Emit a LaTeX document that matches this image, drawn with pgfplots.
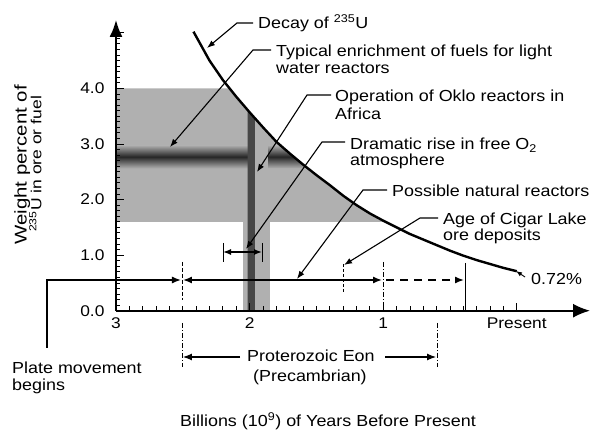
\documentclass[border=0pt]{standalone}
\usepackage{pgfplots}
\pgfplotsset{compat=1.18}
\usetikzlibrary{arrows.meta}
\usepackage{fontspec}
\setmainfont{Liberation Sans}[FakeStretch=1.12]
\newfontfamily\ylabfont{Liberation Sans}[FakeStretch=1.2]

\begin{document}
\begin{tikzpicture}
\path[use as bounding box] (-116pt,-120.3pt) rectangle (474pt,310.7pt);
\begin{axis}[
  at={(0,0)}, anchor=south west, scale only axis,
  width=474pt, height=290.7pt,
  xmin=-3, xmax=0.548, ymin=0, ymax=5.23,
  axis lines=left, axis on top, clip=false,
  x axis line style={line width=1.8pt, -{Latex[length=17pt,width=14pt]}},
  y axis line style={line width=1.8pt, -{Latex[length=17pt,width=13pt]}},
  xtick={-3,-2,-1,0}, xticklabels={3,2,1,Present},
  ytick={0,1,2,3,4,5}, yticklabels={0.0,1.0,2.0,3.0,4.0,{}},
  minor x tick num=9, minor y tick num=9,
  tick align=inside,
  major tick length=8pt, minor tick length=4.5pt,
  every tick/.style={black, line width=0.8pt},
  tick label style={font=\fontsize{15.5}{18}\selectfont},
  yticklabel style={xshift=-8pt},
  xticklabel style={yshift=-3.5pt},
]
% enrichment region (stippled)
\addplot[draw=none, fill=black!31] coordinates {(-3,1.6) (-3,4.0) (-2.15,4.0) (-2.1,3.85) (-2.0,3.57) (-1.9,3.30) (-1.8,3.04) (-1.7,2.83) (-1.6,2.63) (-1.5,2.44) (-1.4,2.26) (-1.3,2.07) (-1.2,1.90) (-1.1,1.75) (-1.0,1.62) (-0.983,1.6)};
% dark band of typical enrichment
\addplot[draw=none, top color=black!31, bottom color=black!31, middle color=black!85] coordinates {(-3,2.56) (-3,2.98) (-1.96,2.98) (-1.96,2.56)};
\addplot[draw=none, top color=black!31, bottom color=black!31, middle color=black!85] coordinates {(-1.86,2.56) (-1.86,2.98) (-1.77,2.98) (-1.7,2.83) (-1.6,2.63) (-1.565,2.56)};
% Oklo band
\addplot[draw=none, fill=black!31] coordinates {(-2.05,0) (-2.05,1.6) (-1.85,1.6) (-1.85,0)};
\addplot[draw=none, fill=black!72] coordinates {(-2.015,0) (-2.015,3.61) (-1.96,3.46) (-1.96,0)};
% decay of U-235
\addplot[line width=2.4pt, black] coordinates {(-2.42,5.02) (-2.3,4.50) (-2.2,4.15) (-2.1,3.85) (-2.0,3.57) (-1.9,3.30) (-1.8,3.04) (-1.7,2.83) (-1.6,2.63) (-1.5,2.44) (-1.4,2.26) (-1.3,2.07) (-1.2,1.90) (-1.1,1.75) (-1.0,1.62) (-0.9,1.50) (-0.8,1.38) (-0.7,1.28) (-0.6,1.18) (-0.5,1.08) (-0.4,0.99) (-0.3,0.91) (-0.2,0.84) (-0.1,0.77) (0,0.71)};
\end{axis}

\begin{scope}[x=1pt,y=-1pt,shift={(-116pt,310.7pt)}, font=\fontsize{16}{19}\selectfont,
  every node/.style={inner sep=0pt},
  ann/.style={line width=1.1pt},
  ah/.style={{Latex[length=8pt,width=6pt]}-},
  tl/.style={line width=1.4pt},
  tip/.style={-{Latex[length=9pt,width=7pt]}},
  thinv/.style={line width=0.7pt}]
% leaders
\draw[ann,ah] (207,48) -- (237,23) -- (253,23);
\node[anchor=base west] at (258,28.5) {Decay of \textsuperscript{235}U};
\draw[ann,ah] (170,147) -- (253,50) -- (271,50);
\node[anchor=base west] at (276,57) {Typical enrichment of fuels for light};
\node[anchor=base west] at (276,73.5) {water reactors};
\draw[ann,ah] (257,172) -- (307,95) -- (331,95);
\node[anchor=base west] at (335,101.7) {Operation of Oklo reactors in};
\node[anchor=base west] at (335,119.5) {Africa};
\draw[ann,ah] (246,249) -- (322,142) -- (345,142);
\node[anchor=base west] at (350,149.5) {Dramatic rise in free O\textsubscript{2}};
\node[anchor=base west] at (350,166) {atmosphere};
\draw[ann,ah] (297,279) -- (363,190) -- (387,190);
\node[anchor=base west] at (392,197) {Possible natural reactors};
\draw[ann,ah] (344,265) -- (420,218) -- (438,218);
\node[anchor=base west] at (443,225) {Age of Cigar Lake};
\node[anchor=base west] at (443,241) {ore deposits};
\draw[line width=0.9pt, -{Latex[length=6pt,width=4.5pt]}] (525,277) -- (516,271);
\node[anchor=base west] at (531,285) {0.72\%};
% time line
\draw[tl, tip] (47,348) -- (47,280) -- (181,280);
\draw[tl, {Latex[length=9pt,width=7pt]}-{Latex[length=9pt,width=7pt]}] (183,280) -- (382,280);
\draw[tl, dash pattern=on 8pt off 6pt, tip] (386,280) -- (464,280);
\draw[thinv, dash pattern=on 4pt off 2pt] (182,262) -- (182,300);
\draw[thinv, dash pattern=on 5pt off 2pt on 1pt off 2pt] (383,262) -- (383,306);
\draw[thinv, dash pattern=on 3pt off 2pt] (343,264) -- (343,292);
\draw[line width=0.8pt] (465,263) -- (465,310);
% rise of O2
\draw[thinv] (223,243) -- (223,262);
\draw[thinv] (262,243) -- (262,262);
\draw[tl, {Latex[length=8pt,width=6pt]}-{Latex[length=8pt,width=6pt]}] (223,252) -- (262,252);
% Proterozoic eon
\draw[thinv, dash pattern=on 5pt off 2pt on 1pt off 2pt] (182,323) -- (182,367);
\draw[thinv, dash pattern=on 5pt off 2pt on 1pt off 2pt] (437,323) -- (437,367);
\draw[ann, tip] (240,357) -- (183,357);
\draw[ann, tip] (385,357) -- (436,357);
\node[anchor=base west] at (247,361.7) {Proterozoic Eon};
\node[anchor=base west] at (253,382) {(Precambrian)};
\node[anchor=base west] at (12,373.5) {Plate movement};
\node[anchor=base west] at (12,391) {begins};
\node[anchor=base west] at (180,427) {Billions (10\textsuperscript{9}) of Years Before Present};
% y label
\node[rotate=90, anchor=base, font=\ylabfont\fontsize{17}{20}\selectfont] at (26.7,165) {Weight percent of};
\node[rotate=90, anchor=base, font=\ylabfont\fontsize{14.6}{18}\selectfont] at (41.5,164) {\textsuperscript{235}U in ore or fuel};
\end{scope}
\end{tikzpicture}
\end{document}
